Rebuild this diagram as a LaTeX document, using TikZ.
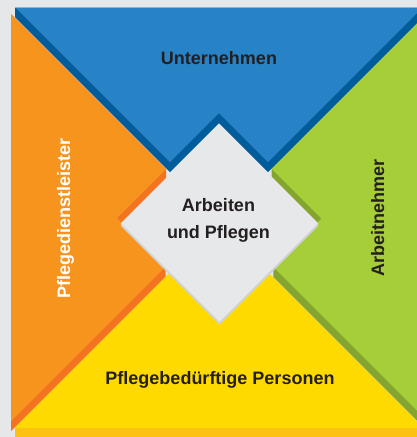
\documentclass[tikz,border=0pt]{standalone}
\usepackage{fontspec}
\setmainfont{Liberation Sans}
\usepackage{tikz}
\definecolor{bggrey}{HTML}{E6E7E8}
\definecolor{firmblue}{HTML}{2882C6}
\definecolor{firmbluedark}{HTML}{015C9C}
\definecolor{firmblueline}{HTML}{86B6DF}
\definecolor{careorange}{HTML}{F7941E}
\definecolor{careorangedark}{HTML}{F37321}
\definecolor{staffgreen}{HTML}{A6CE39}
\definecolor{staffgreendark}{HTML}{84A631}
\definecolor{patyellow}{HTML}{FFDA00}
\definecolor{patyellowdark}{HTML}{FDC114}
\definecolor{centregrey}{HTML}{E7E8EA}
\definecolor{centreshadow}{HTML}{D0D2D4}
\definecolor{labeldark}{HTML}{231F20}
\tikzset{
    %Define style for the light faces
    blueface/.style={fill=firmblue},
    orangeface/.style={fill=careorange},
    greenface/.style={fill=staffgreen},
    yellowface/.style={fill=patyellow},
    centreface/.style={fill=centregrey},
    %Define style for the darker sides
    blueside/.style={fill=firmbluedark},
    orangeside/.style={fill=careorangedark},
    greenside/.style={fill=staffgreendark},
    yellowside/.style={fill=patyellowdark},
    centreside/.style={fill=centreshadow},
    blueedge/.style={draw=firmblueline, line width=0.8pt},
    %Define style for labels
    piecelabel/.style={
           font=\fontsize{18}{27}\selectfont\bfseries,
           text=labeldark,
           inner sep=0pt,
           anchor=base}
}
\begin{document}
\begin{tikzpicture}[x=1pt,y=-1pt]
\useasboundingbox[fill=bggrey] (0,0) rectangle (417,437);
\clip (0,0) rectangle (417,437);

 %bottom piece
\fill[yellowside] (15,428) -- (424,428) -- (424,438) -- (15,438) -- cycle;
\fill[yellowface] (14,428) -- (219,223) -- (424,428) -- cycle;

 %left piece
\fill[orangeside] (11,14) -- (166,169) -- (166,179) -- (122,223) -- (165.5,266.5)
    -- (165.5,276.5) -- (11,431) -- cycle;
\fill[orangeface] (11,14) -- (166,169) -- (117,218) -- (165.5,266.5) -- (11,421) -- cycle;

 %right piece
\fill[greenside] (430,10) -- (271.5,168.5) -- (271.5,178.5) -- (316.5,223.5)
    -- (273.25,266.75) -- (273.25,276.75) -- (430,433.5) -- cycle;
\fill[greenface] (430,10) -- (271.5,168.5) -- (321.5,218.5) -- (273.25,266.75)
    -- (430,423.5) -- cycle;

 %top piece
\fill[blueside] (15,7) -- (423,7) -- (423,17) -- (268,172) -- (219,123) -- (170,172)
    -- (15,17) -- cycle;
\fill[blueface] (15,7) -- (423,7) -- (268,162) -- (219,113) -- (170,162) -- cycle;
\draw[blueedge] (15,7.4) -- (423,7.4);

 %centre
\fill[centreside] (121,223) -- (121,226) -- (219.5,324.5) -- (318,226) -- (318,223) -- cycle;
\fill[centreface] (219.5,124.5) -- (318,223) -- (219.5,321.5) -- (121,223) -- cycle;

 %labels
\node[piecelabel] (firm) at (219,64) {Unternehmen};
\node[piecelabel] (work) at (218.5,211.5) {Arbeiten};
\node[piecelabel] (care) at (218.5,238.5) {und Pflegen};
\node[piecelabel] (patients) at (220,384) {Pflegebedürftige Personen};
\node[piecelabel, text=white, rotate=90] (providers) at (70,218.5) {Pflegedienstleister};
\node[piecelabel, rotate=90] (staff) at (384,217.5) {Arbeitnehmer};
\end{tikzpicture}
\end{document}
